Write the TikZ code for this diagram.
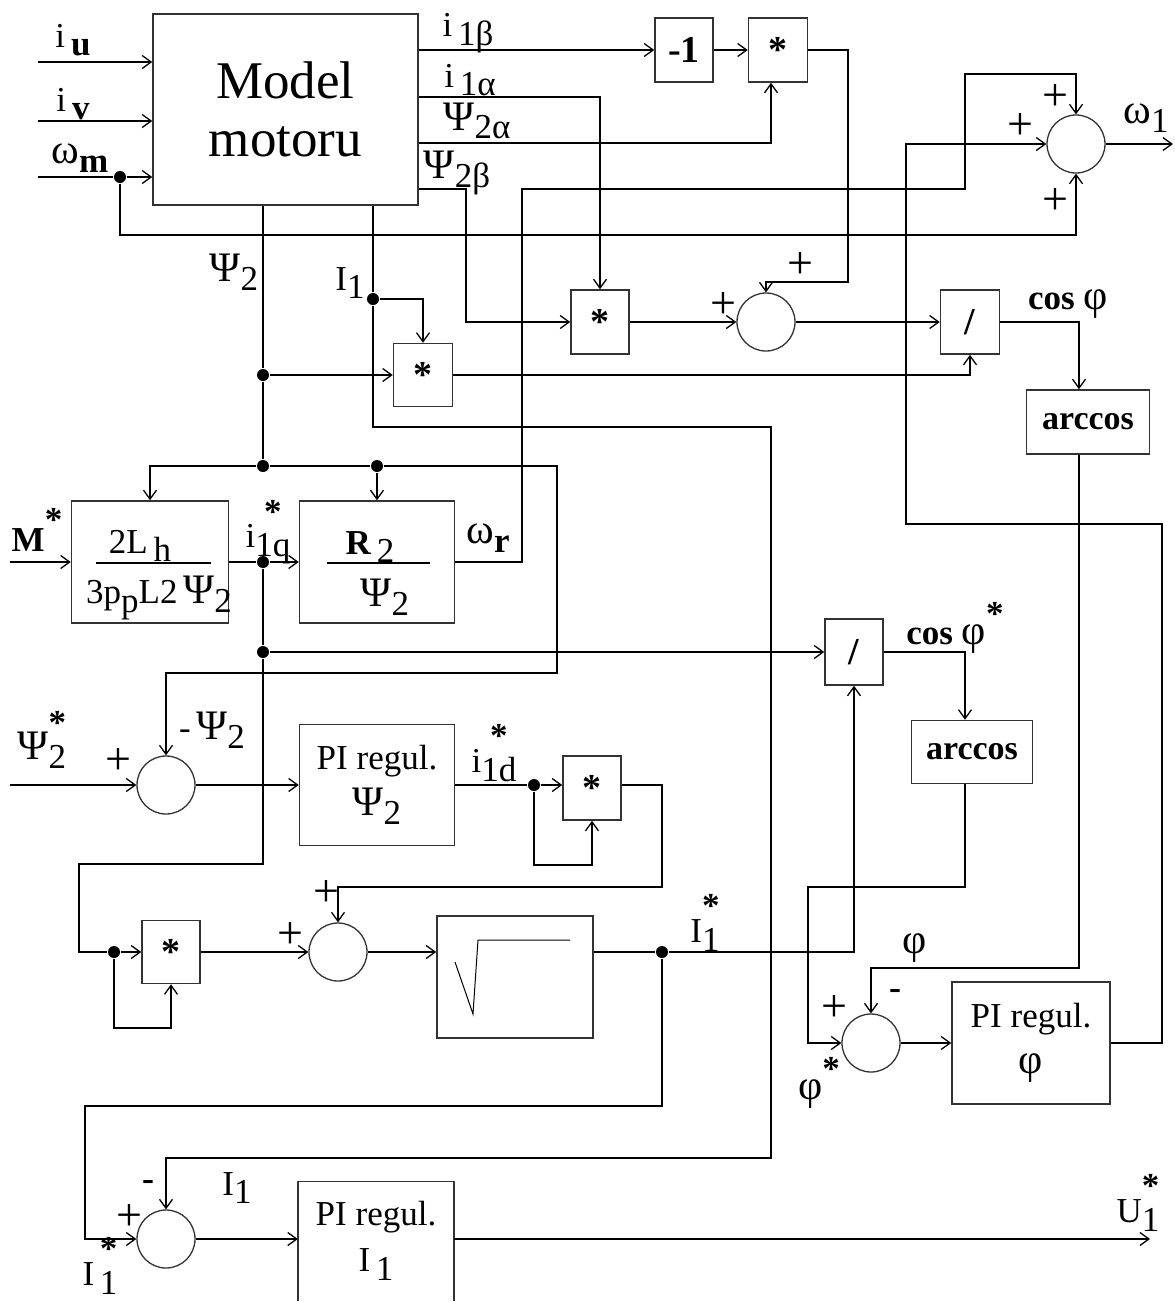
\documentclass[tikz,border=0pt]{standalone}
\usepackage{fontspec}
\setmainfont{Liberation Serif}
\usetikzlibrary{arrows.meta}

\newlength{\subw}
\newcommand{\labf}{\fontsize{35}{46}\selectfont}
\newcommand{\g}[1]{{\fontsize{42}{46}\selectfont #1}}
\newcommand{\lo}[1]{\raisebox{-0.25em}{#1}}
\newcommand{\los}[1]{\settowidth{\subw}{#1}\raisebox{-0.25em}{\rlap{\makebox[\subw]{\raisebox{0.95em}{\bfseries *}}}#1}}
\newcommand{\sst}{\raisebox{0.55em}{\bfseries *}}

\begin{document}
\begin{tikzpicture}[
    x=1pt, y=-1pt,
    line width=1.3pt,
    blk/.style={rectangle, draw=black!80, line width=1.5pt, inner sep=0pt,
                font=\labf, align=center},
    opf/.style={font=\fontsize{38}{40}\selectfont\bfseries},
    acf/.style={font=\fontsize{34}{40}\selectfont\bfseries},
    sumc/.style={circle, draw=black!80, line width=1.3pt, minimum size=58pt, inner sep=0pt},
    jdot/.style={circle, fill, inner sep=0pt, minimum size=12pt},
    lab/.style={inner sep=0pt, font=\labf},
    sgn/.style={inner sep=0pt, font=\fontsize{46}{48}\selectfont},
    arr/.style={-{Straight Barb[length=9pt, width=13pt]}},
  ]
    \path[use as bounding box, fill=white] (0,0) rectangle (1175,1302);

    % blocks
    \node[blk, minimum width=265pt, minimum height=191pt, font=\fontsize{53}{58}\selectfont] (model) at (285.5,109.5) {Model\\motoru};
    \node[blk, opf, minimum width=58pt, minimum height=64pt] (neg)  at (684,50)  {-1};
    \node[blk, opf, minimum width=59pt, minimum height=64pt] (m1)   at (778,50)  {*};
    \node[blk, opf, minimum width=58pt, minimum height=64pt] (m2)   at (600,322) {*};
    \node[blk, opf, minimum width=59pt, minimum height=64pt] (div1) at (970,322) {/};
    \node[blk, acf, minimum width=123pt, minimum height=64pt] (acos1) at (1088,422) {arccos};
    \node[blk, opf, minimum width=59pt, minimum height=63pt] (m3)   at (423,375) {*};
    \node[blk, minimum width=157pt, minimum height=122pt] (fa) at (150,562) {};
    \node[blk, minimum width=155pt, minimum height=122pt] (fb) at (377,562) {};
    \node[blk, opf, minimum width=58pt, minimum height=66pt] (div2) at (854,652) {/};
    \node[blk, acf, minimum width=121pt, minimum height=63pt] (acos2) at (972,752) {arccos};
    \node[blk, minimum width=155pt, minimum height=121pt] (piPsi) at (377,785) {PI regul.\\\g{Ψ}\lo{2}};
    \node[blk, opf, minimum width=58pt, minimum height=64pt] (m5) at (592,788) {*};
    \node[blk, opf, minimum width=58pt, minimum height=63pt] (m4) at (171,952) {*};
    \node[blk, minimum width=156pt, minimum height=122pt] (sq) at (515,977) {};
    \node[blk, minimum width=158pt, minimum height=122pt] (piphi) at (1031,1043) {PI regul.\\\g{φ}};
    \node[lab, minimum width=155pt, minimum height=118pt, align=center] (piI) at (376,1241) {PI regul.\\I\,\lo{1}};
    \draw[draw=black!80, line width=1.5pt] (piI.south west) -- (piI.north west) -- (piI.north east) -- (piI.south east);

    % fractions and root
    \node[lab] (fanum) at (140,546) {2L\,\lo{h}};
    \node[lab] (faden) at (159,598) {3p\lo{p}L2\,\g{Ψ}\lo{2}};
    \draw (96,563) -- (211,563);
    \node[lab] (fbnum) at (370,547) {\textbf{R}\,\lo{2}};
    \node[lab] (fbden) at (385,597) {\g{Ψ}\lo{2}};
    \draw (327,563) -- (430,563);
    \draw[line width=1pt] (455,962) -- (473,1014) -- (478,940) -- (570,940);

    % summing points
    \node[sumc] (sw)   at (1076,144) {};
    \node[sumc] (s1)   at (766,322)  {};
    \node[sumc] (spsi) at (166,785)  {};
    \node[sumc] (s2)   at (338,952)  {};
    \node[sumc] (sphi) at (871,1043) {};
    \node[sumc] (sI)   at (166,1239) {};

    % junctions
    \node[jdot] (dwm) at (120,177) {};
    \node[jdot] (dI)  at (373,299) {};
    \node[jdot] (dP1) at (263,375) {};
    \node[jdot] (dP2) at (263,466) {};
    \node[jdot] (dP3) at (377,466) {};
    \node[jdot] (dq)  at (263,562) {};
    \node[jdot] (dP4) at (263,652) {};
    \node[jdot] (did) at (534,785) {};
    \node[jdot] (dm4) at (114,952) {};
    \node[jdot] (dI1) at (662,952) {};

    \coordinate (iuin)  at (38,62);
    \coordinate (ivin)  at (38,121);
    \coordinate (wmin)  at (38,177);
    \coordinate (wmlow) at (120,235);
    \coordinate (kb)    at (466,322);
    \coordinate (kc)    at (848,282);
    \coordinate (kphi)  at (1079,968);
    \coordinate (ki1)   at (373,427);
    \coordinate (ki2)   at (771,1158);
    \coordinate (kp1)   at (557,673);
    \coordinate (Min)   at (10,562);
    \coordinate (kr1)   at (522,189);
    \coordinate (kr2)   at (965,74);
    \coordinate (kq1)   at (79,864);
    \coordinate (km4)   at (114,1028);
    \coordinate (kf1)   at (808,887);
    \coordinate (Pin)   at (10,785);
    \coordinate (kd1)   at (534,865);
    \coordinate (kd2)   at (662,887);
    \coordinate (kI1)   at (85,1106);
    \coordinate (Uout)  at (1150,1239);
    \coordinate (kw1)   at (1162,524);
    \coordinate (kw2)   at (906,144);
    \coordinate (wout)  at (1173,144);

    % motor model
    \draw[arr] (iuin) -- (iuin -| model.west);
    \draw[arr] (ivin) -- (ivin -| model.west);
    \draw (wmin) -- (dwm);
    \draw[arr] (dwm) -- (dwm -| model.west);
    \draw[arr] (dwm) -- (wmlow) -| (sw.south);
    \draw[arr] (model.east |- neg.west) -- (neg.west);
    \draw[arr] (neg.east) -- (m1.west);
    \draw[arr] (model.east |- 0,97) -| (m2.north);
    \draw[arr] (model.east |- 0,143) -| (m1.south -| 771,0);
    \draw[arr] (model.east |- 0,189) -| (kb) -- (m2.west);
    \draw[arr] (m1.east) -| (kc) -| (s1.north);
    \draw[arr] (m2.east) -- (s1.west);
    \draw[arr] (s1.east) -- (div1.west);
    \draw[arr] (div1.east) -| (acos1.north -| kphi);
    \draw[arr] (acos1.south -| kphi) -- (kphi) -| (sphi.north);

    % flux and current
    \draw (model.south -| dP1) -- (dP1) -- (dP2);
    \draw[arr] (dP1) -- (m3.west);
    \draw (model.south -| dI) -- (dI);
    \draw[arr] (dI) -| (m3.north);
    \draw[arr] (dI) -- (ki1) -| (ki2) -| (sI.north);
    \draw[arr] (m3.east) -| (div1.south);
    \draw[arr] (dP2) -| (fa.north);
    \draw (dP2) -- (dP3);
    \draw[arr] (dP3) -- (fb.north);
    \draw[arr] (dP3) -| (kp1) -| (spsi.north);

    % torque and slip
    \draw[arr] (Min) -- (fa.west);
    \draw (fa.east) -- (dq);
    \draw[arr] (dq) -- (fb.west);
    \draw[arr] (fb.east) -| (kr1) -| (kr2) -| (sw.north);
    \draw (dq) -- (dP4);
    \draw[arr] (dP4) -- (div2.west);
    \draw (dP4) |- (kq1) |- (dm4);
    \draw[arr] (dm4) -- (m4.west);
    \draw[arr] (dm4) -- (km4) -| (m4.south);
    \draw[arr] (div2.east) -| (acos2.north -| 965,0);
    \draw[arr] (acos2.south -| 965,0) |- (kf1) |- (sphi.west);

    % flux loop
    \draw[arr] (Pin) -- (spsi.west);
    \draw[arr] (spsi.east) -- (piPsi.west);
    \draw (piPsi.east) -- (did);
    \draw[arr] (did) -- (m5.west |- did);
    \draw[arr] (did) -- (kd1) -| (m5.south);
    \draw[arr] (m5.east |- did) -| (kd2) -| (s2.north);
    \draw[arr] (m4.east) -- (s2.west);
    \draw[arr] (s2.east) -- (sq.west |- s2.east);
    \draw (sq.east |- s2.east) -- (dI1);
    \draw[arr] (dI1) -| (div2.south);
    \draw[arr] (dI1) |- (kI1) |- (sI.west);

    % current and phase loops
    \draw[arr] (sI.east) -- (piI.west |- sI.east);
    \draw[arr] (piI.east |- Uout) -- (Uout);
    \draw[arr] (sphi.east) -- (piphi.west);
    \draw[arr] (piphi.east) -| (kw1) -| (kw2) -- (sw.west);
    \draw[arr] (sw.east) -- (wout);

    % signs
    \node[sgn] (pw1)  at (1055,98)   {+};
    \node[sgn] (pw2)  at (1020,127)  {+};
    \node[sgn] (pw3)  at (1055,202)  {+};
    \node[sgn] (ps1a) at (800,265)   {+};
    \node[sgn] (ps1b) at (723,305)   {+};
    \node[sgn] (ppsi) at (118,761)   {+};
    \node[sgn] (ps2a) at (326,893)   {+};
    \node[sgn] (ps2b) at (290,935)   {+};
    \node[sgn] (pphi) at (834,1008)  {+};
    \node[sgn, font=\fontsize{36}{40}\selectfont\bfseries] (mphi) at (895,994)  {-};
    \node[sgn] (pI)   at (129,1217)  {+};
    \node[sgn, font=\fontsize{36}{40}\selectfont\bfseries] (mI)   at (148,1185)  {-};

    % signal labels
    \node[lab] (lu)   at (73,40)    {i\,\lo{\textbf{u}}};
    \node[lab] (lv)   at (73,104)   {i\,\lo{\textbf{v}}};
    \node[lab] (lwm)  at (80,158)   {\g{ω}\lo{\textbf{m}}};
    \node[lab] (l1b)  at (468,33)   {i\,\lo{1β}};
    \node[lab] (l1a)  at (470,80)   {i\,\lo{1α}};
    \node[lab] (l2a)  at (477,121)  {\g{Ψ}\lo{2α}};
    \node[lab] (l2b)  at (457,173)  {\g{Ψ}\lo{2β}};
    \node[lab] (lw1)  at (1146,118) {\g{ω}\lo{1}};
    \node[lab] (lpsi) at (234,272)  {\g{Ψ}\lo{2}};
    \node[lab] (lI1)  at (350,283)  {I\lo{1}};
    \node[lab] (lcos1) at (1068,304) {\textbf{cos} \g{φ}};
    \node[lab] (lM)   at (37,530)   {\textbf{M}\sst};
    \node[lab] (liq)  at (268,532)  {i\los{1q}};
    \node[lab] (lwr)  at (488,538)  {\g{ω}\lo{\textbf{r}}};
    \node[lab] (lcos2) at (955,628) {\textbf{cos} \g{φ}\sst};
    \node[lab] (lpsis) at (42,740)  {\g{Ψ}\los{2}};
    \node[lab] (lmpsi) at (212,730) {-\,\g{Ψ}\lo{2}};
    \node[lab] (lid)  at (494,753)  {i\los{1d}};
    \node[lab] (lIs)  at (705,923)  {I\los{1}};
    \node[lab] (lphi) at (915,948)  {\g{φ}};
    \node[lab] (lphis) at (819,1083) {\g{φ}\sst};
    \node[lab] (lI1b) at (237,1188) {I\lo{1}};
    \node[lab] (lI1s) at (100,1266) {I\,\los{1}};
    \node[lab] (lU)   at (1138,1203) {U\los{1}};
\end{tikzpicture}
\end{document}
